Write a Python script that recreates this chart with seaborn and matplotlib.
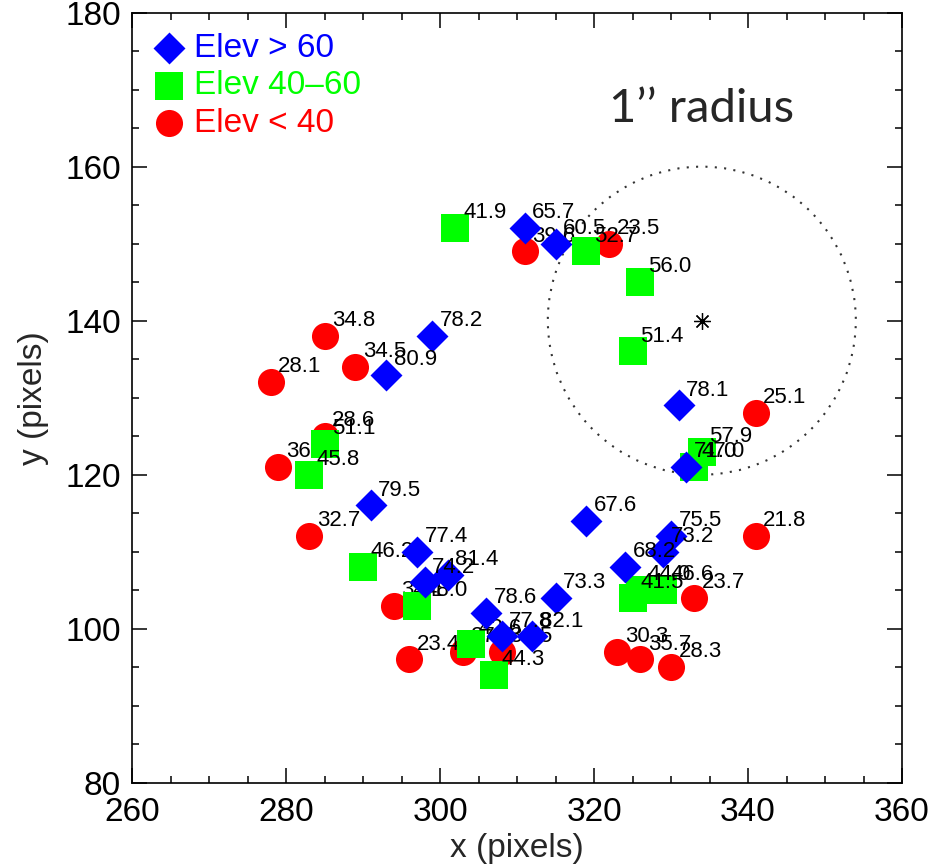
import matplotlib
matplotlib.use('Agg')
import matplotlib.pyplot as plt
from matplotlib.patches import Circle
from matplotlib.ticker import MultipleLocator
import seaborn as sns

# --- data (x, y in pixels, label = elevation) ---
high_x = [311, 315, 299, 293, 291, 297, 298, 301, 306, 308, 312, 315, 319, 324, 329, 330, 331, 332]
high_y = [152, 150, 138, 133, 116, 110, 106, 107, 102, 99, 99, 104, 114, 108, 110, 112, 129, 121]
high_lab = ['65.7', '60.5', '78.2', '80.9', '79.5', '77.4', '74.2', '81.4', '78.6', '77.8', '82.1',
            '73.3', '67.6', '68.2', '73.2', '75.5', '78.1', '71.0']

mid_x = [302, 319, 326, 325, 285, 283, 290, 297, 304, 307, 325, 326, 329, 334, 333]
mid_y = [152, 149, 145, 136, 124, 120, 108, 103, 98, 94, 104, 105, 105, 123, 121]
mid_lab = ['41.9', '52.7', '56.0', '51.4', '51.1', '45.8', '46.2', '48.0', '42.6', '44.3',
           '41.5', '44.0', '46.6', '57.9', '47.0']

low_x = [285, 278, 289, 311, 322, 285, 279, 283, 294, 296, 303, 308, 323, 326, 330, 333, 341, 341]
low_y = [138, 132, 134, 149, 150, 125, 121, 112, 103, 96, 97, 97, 97, 96, 95, 104, 112, 128]
low_lab = ['34.8', '28.1', '34.5', '39.6', '23.5', '28.6', '36.4', '32.7', '34.1', '23.4', '27.6',
           '36.5', '30.3', '35.7', '28.3', '23.7', '21.8', '25.1']

# target position and 1'' radius circle
center_x, center_y = 334, 140
radius = 20

# --- style ---
sns.set_style('ticks')
plt.rcParams['font.family'] = ['Liberation Sans', 'DejaVu Sans']

fig = plt.figure(figsize=(9.33, 8.68), dpi=100)
ax = fig.add_axes([0.1415, 0.0983, 0.8253, 0.8871])

groups = [
    ('Elev < 40', low_x, low_y, low_lab, 'o', '#ff0000', 380, 2),
    ('Elev 40\u201360', mid_x, mid_y, mid_lab, 's', '#00ff00', 420, 3),
    ('Elev > 60', high_x, high_y, high_lab, 'D', '#0000ff', 265, 4),
]

for name, xs, ys, labs, mk, col, size, z in groups:
    sns.scatterplot(x=xs, y=ys, marker=mk, color=col, s=size, linewidth=0,
                    label=name, ax=ax, zorder=z)
    for xv, yv, t in zip(xs, ys, labs):
        ax.annotate(t, (xv, yv), xytext=(5.5, 11), textcoords='offset points',
                    fontsize=16, ha='left', va='center', color='black', zorder=z + 0.5)

# dotted 1'' circle and the target asterisk
ax.add_patch(Circle((center_x, center_y), radius, fill=False, color='#333333',
                    linewidth=1.5, linestyle=(0, (1, 3.5)), zorder=1))
ax.plot([center_x], [center_y], marker=(8, 2, 0), markersize=12, color='black',
        markeredgewidth=0.9, linestyle='none', zorder=5)

ax.text(322, 167.5, '1\u2019\u2019 radius', fontsize=34, family=['Lato', 'DejaVu Sans'],
        ha='left', va='center')

ax.set_xlim(260, 360)
ax.set_ylim(80, 180)
ax.xaxis.set_major_locator(MultipleLocator(20))
ax.yaxis.set_major_locator(MultipleLocator(20))
ax.xaxis.set_minor_locator(MultipleLocator(5))
ax.yaxis.set_minor_locator(MultipleLocator(5))
ax.tick_params(which='both', direction='in', top=True, right=True, width=1.1, colors='black')
ax.tick_params(which='major', length=11, labelsize=24)
ax.tick_params(which='minor', length=5)
ax.tick_params(axis='x', which='major', pad=10)
ax.tick_params(axis='y', which='major', pad=8)
for sp in ax.spines.values():
    sp.set_linewidth(1.2)
    sp.set_color('black')

ax.set_xlabel('x (pixels)', fontsize=24, labelpad=4)
ax.set_ylabel('y (pixels)', fontsize=24, labelpad=12)

handles, labels = ax.get_legend_handles_labels()
order = [2, 1, 0]
leg = ax.legend([handles[i] for i in order], [labels[i] for i in order],
                loc='upper left', frameon=False, fontsize=24, handlelength=1.0,
                handletextpad=0.25, labelspacing=0.2, borderaxespad=0.3, borderpad=0.3,
                scatterpoints=1)
for txt, col in zip(leg.get_texts(), ['#0000ff', '#00ff00', '#ff0000']):
    txt.set_color(col)

fig.savefig('out.png', dpi=100)
